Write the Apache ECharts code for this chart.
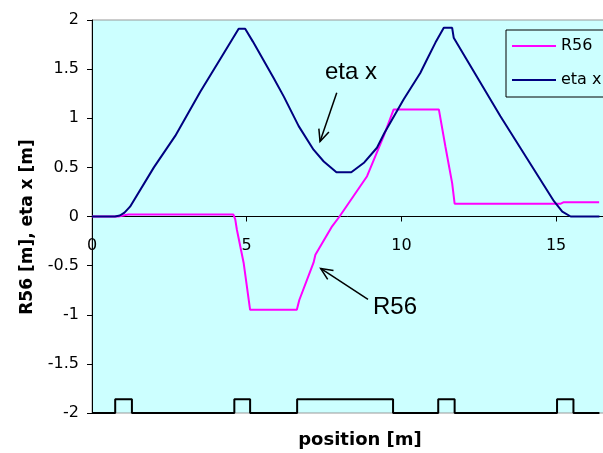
<!DOCTYPE html>
<html>
<head>
<meta charset="utf-8">
<script src="https://cdn.jsdelivr.net/npm/echarts@6/dist/echarts.min.js"></script>
<style>html,body{margin:0;padding:0;background:#fff;}#main{width:603px;height:453px;}</style>
</head>
<body>
<div id="main"></div>
<script>
// eta x (dispersion) samples
const etaPos = [0, 0.74, 0.9, 1.05, 1.23, 2.0, 2.69, 3.5, 4.2, 4.74, 4.95, 5.2, 5.87, 6.2, 6.68, 7.16, 7.49, 7.9, 8.38, 8.8, 9.21, 9.45, 10.07, 10.61, 10.83, 11.1, 11.37, 11.64, 11.69, 13.2, 14.93, 15.2, 15.47, 16.4];
const etaVal = [0, 0, 0.01, 0.04, 0.10, 0.50, 0.82, 1.27, 1.63, 1.91, 1.91, 1.78, 1.41, 1.22, 0.92, 0.68, 0.56, 0.45, 0.45, 0.55, 0.70, 0.85, 1.19, 1.46, 1.60, 1.77, 1.92, 1.92, 1.82, 1.02, 0.156, 0.05, 0, 0];
// R56 samples
const r56Pos = [0, 0.85, 1.17, 4.57, 4.63, 4.68, 4.90, 5.11, 6.62, 6.70, 7.16, 7.22, 7.76, 8.0, 8.89, 9.43, 9.75, 11.21, 11.42, 11.64, 11.72, 15.15, 15.25, 16.39];
const r56Val = [0, 0, 0.02, 0.02, -0.03, -0.13, -0.47, -0.95, -0.95, -0.85, -0.47, -0.39, -0.10, 0, 0.41, 0.82, 1.09, 1.09, 0.715, 0.34, 0.13, 0.13, 0.146, 0.146];
// lattice elements (magnets) drawn as boxes on the bottom line
const elemStart = [0.75, 4.60, 6.63, 11.19, 15.03];
const elemEnd = [1.29, 5.11, 9.73, 11.72, 15.56];
const elemBase = -2;
const elemTop = -1.86;
const latticeEnd = 16.4;
const yTicks = [-2, -1.5, -1, -0.5, 0, 0.5, 1, 1.5, 2];

const etaData = etaPos.map((p, i) => [p, etaVal[i]]);
const r56Data = r56Pos.map((p, i) => [p, r56Val[i]]);
const elemData = [[0, elemBase]];
elemStart.forEach((s, i) => {
  elemData.push([s, elemBase], [s, elemTop], [elemEnd[i], elemTop], [elemEnd[i], elemBase]);
});
elemData.push([latticeEnd, elemBase]);

const tickFont = 'DejaVu Sans';
const gridTop = 20, gridHeight = 393;
const yMin = yTicks[0], yMax = yTicks[yTicks.length - 1];
// offset that moves the bottom x axis up onto the y = 0 line
const zeroOffset = -gridHeight * (0 - yMin) / (yMax - yMin);

const chart = echarts.init(document.getElementById('main'), null, {renderer: 'canvas'});
const option = {
  animation: false,
  grid: {left: 92, top: gridTop, width: 526, height: gridHeight, outerBoundsMode: 'none', containLabel: false, show: true, backgroundColor: '#CCFFFF', borderColor: '#999999', borderWidth: 1},
  legend: {
    data: [{name: 'R56', icon: 'rect'}, {name: 'eta x', icon: 'rect'}], orient: 'vertical', left: 506, top: 30,
    padding: [6, 8, 7, 6], itemWidth: 44, itemHeight: 2, itemGap: 14,
    textStyle: {fontFamily: tickFont, fontSize: 16, color: '#000', lineHeight: 20},
    borderColor: '#000', borderWidth: 1, backgroundColor: 'rgba(0,0,0,0)'
  },
  xAxis: {
    type: 'value', min: 0, max: 17, interval: 5, position: 'bottom', offset: zeroOffset,
    axisLine: {onZero: false, lineStyle: {color: '#000', width: 1}},
    axisTick: {show: true, inside: false, length: 5, lineStyle: {color: '#000'}},
    axisLabel: {margin: 21, fontFamily: tickFont, fontSize: 16, color: '#000', formatter: v => (v % 5 === 0 ? String(v) : '')},
    splitLine: {show: false}
  },
  yAxis: {
    type: 'value', min: yMin, max: yMax, interval: 0.5,
    axisLine: {show: true, onZero: false, lineStyle: {color: '#000', width: 1}},
    axisTick: {show: true, length: 5, lineStyle: {color: '#000'}},
    axisLabel: {margin: 13, fontFamily: tickFont, fontSize: 16, color: '#000'},
    splitLine: {show: false}
  },
  series: [
    {name: 'R56', type: 'line', data: r56Data, showSymbol: false, symbol: 'none', lineStyle: {color: '#FF00FF', width: 2}, itemStyle: {color: '#FF00FF'}},
    {name: 'eta x', type: 'line', data: etaData, showSymbol: false, symbol: 'none', lineStyle: {color: '#000080', width: 2}, itemStyle: {color: '#000080'}},
    {name: 'elements', type: 'line', data: elemData, showSymbol: false, symbol: 'none', clip: false, lineStyle: {color: '#000', width: 2}, itemStyle: {color: '#000'}}
  ]
};
chart.setOption(option);

function px(p) { return chart.convertToPixel({gridIndex: 0}, p); }
function arrow(tail, head) {
  const t = px(tail), h = px(head);
  const ang = Math.atan2(t[1] - h[1], t[0] - h[0]);
  const L = 13, a = 0.42;
  const p1 = [h[0] + L * Math.cos(ang + a), h[1] + L * Math.sin(ang + a)];
  const p2 = [h[0] + L * Math.cos(ang - a), h[1] + L * Math.sin(ang - a)];
  return [
    {type: 'line', shape: {x1: t[0], y1: t[1], x2: h[0], y2: h[1]}, style: {stroke: '#000', lineWidth: 1.5}},
    {type: 'polyline', shape: {points: [p1, h, p2]}, style: {stroke: '#000', lineWidth: 1.5, fill: null}}
  ];
}
function label(text, at) {
  const p = px(at);
  return {type: 'text', x: p[0], y: p[1], style: {text: text, fontFamily: 'Liberation Sans', fontSize: 24, fill: '#000', align: 'left', verticalAlign: 'middle', textAlign: 'left', textVerticalAlign: 'middle'}};
}
const graphics = [].concat(
  arrow([7.91, 1.26], [7.37, 0.763]),
  arrow([8.92, -0.844], [7.39, -0.529]),
  [label('eta x', [7.53, 1.465]), label('R56', [9.08, -0.92])],
  [
    {type: 'text', x: 360, y: 440, style: {text: 'position [m]', fontFamily: 'DejaVu Sans', fontWeight: 'bold', fontSize: 18, fill: '#000', align: 'center', verticalAlign: 'middle', textAlign: 'center', textVerticalAlign: 'middle'}},
    {type: 'text', x: 28, y: 227, rotation: Math.PI / 2, style: {text: 'R56 [m], eta x [m]', fontFamily: 'DejaVu Sans', fontWeight: 'bold', fontSize: 17, fill: '#000', align: 'center', verticalAlign: 'middle', textAlign: 'center', textVerticalAlign: 'middle'}}
  ]
);
chart.setOption({graphic: {elements: graphics}});
</script>
</body>
</html>
